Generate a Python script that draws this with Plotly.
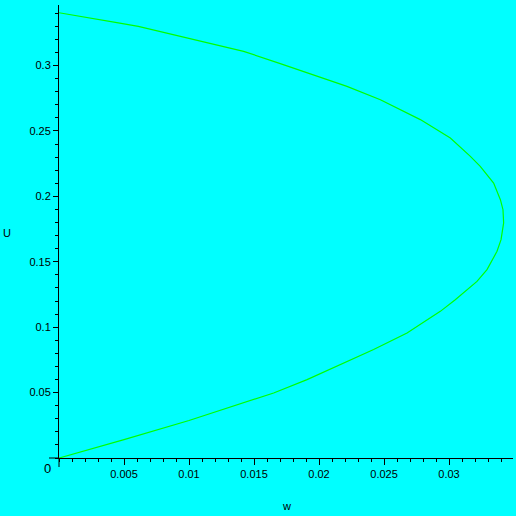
import plotly.graph_objects as go

# curve, ordered along the curve (lower branch first)
w_vals = [0, 0.005, 0.01, 0.01395, 0.01651, 0.01908, 0.02164, 0.0242, 0.02677,
          0.02831, 0.02933, 0.03048, 0.03215, 0.03292, 0.03369, 0.034,
          0.0342, 0.03415, 0.03395, 0.03343, 0.0324, 0.03164, 0.0301, 0.02779,
          0.02472, 0.02215, 0.01958, 0.01702, 0.0142, 0.01148, 0.00918, 0.00764,
          0.0061, 0.00456, 0.00302, 0.00148, 0]
u_vals = [0, 0.014, 0.0287, 0.0415, 0.0497, 0.0599, 0.0713, 0.0829, 0.0956,
          0.1057, 0.1121, 0.121, 0.135, 0.144, 0.158, 0.1669,
          0.1797, 0.1898, 0.1975, 0.2102, 0.2229, 0.2306, 0.2446, 0.2587,
          0.2739, 0.2841, 0.2930, 0.3015, 0.3109, 0.3173, 0.3223, 0.3262,
          0.3300, 0.3326, 0.3351, 0.3381, 0.3404]

x_ticks = [0.005, 0.01, 0.015, 0.02, 0.025, 0.03]
x_labels = ["0.005", "0.01", "0.015", "0.02", "0.025", "0.03"]
y_ticks = [0.05, 0.1, 0.15, 0.2, 0.25, 0.3]
y_labels = ["0.05", "0.1", "0.15", "0.2", "0.25", "0.3"]

bg = "#00ffff"
font = dict(family="Liberation Sans, Arial, sans-serif", size=11, color="black")

fig = go.Figure()
fig.add_trace(go.Scatter(x=w_vals, y=u_vals, mode="lines",
                         line=dict(color="#00ff00", width=1.2),
                         hoverinfo="skip"))

fig.update_layout(
    width=516, height=516,
    margin=dict(l=59, r=3, t=5, b=58),
    paper_bgcolor=bg, plot_bgcolor=bg,
    showlegend=False,
    font=font,
)
fig.update_xaxes(
    range=[0, 0.03492], showgrid=False, zeroline=False,
    showline=True, linecolor="black", linewidth=1,
    tickmode="array", tickvals=x_ticks, ticktext=x_labels,
    ticks="outside", ticklen=6, tickcolor="black", tickwidth=1,
    minor=dict(dtick=0.001, tick0=0, ticks="outside", ticklen=3, tickcolor="black", showgrid=False),
    tickfont=font,
)
fig.update_yaxes(
    range=[0, 0.3463], showgrid=False, zeroline=False,
    showline=True, linecolor="black", linewidth=1,
    tickmode="array", tickvals=y_ticks, ticktext=y_labels,
    ticks="outside", ticklen=5, tickcolor="black", tickwidth=1,
    minor=dict(dtick=0.01, tick0=0, ticks="outside", ticklen=3, tickcolor="black", showgrid=False),
    tickfont=font,
)

# axes cross a little past the origin, as in the original
fig.add_shape(type="line", xref="paper", yref="paper", x0=0, x1=0, y0=0, y1=-9 / 453,
              line=dict(color="black", width=1))
fig.add_shape(type="line", xref="paper", yref="paper", x0=-10 / 454, x1=0, y0=0, y1=0,
              line=dict(color="black", width=1))

# origin label and axis names
fig.add_annotation(x=0, y=0, xref="paper", yref="paper", text="0", showarrow=False,
                   xanchor="right", yanchor="top", xshift=-6, yshift=-1,
                   font=dict(family=font["family"], size=13, color="black"))
fig.add_annotation(x=0, y=0.5, xref="paper", yref="paper", text="U", showarrow=False,
                   xanchor="center", yanchor="middle", xshift=-52, yshift=-1, font=font)
fig.add_annotation(x=0.5, y=0, xref="paper", yref="paper", text="w", showarrow=False,
                   xanchor="center", yanchor="middle", xshift=0, yshift=-48, font=font)

fig.write_html("out.html", config={"displayModeBar": False},
               post_script="document.body.style.margin='0px';")
